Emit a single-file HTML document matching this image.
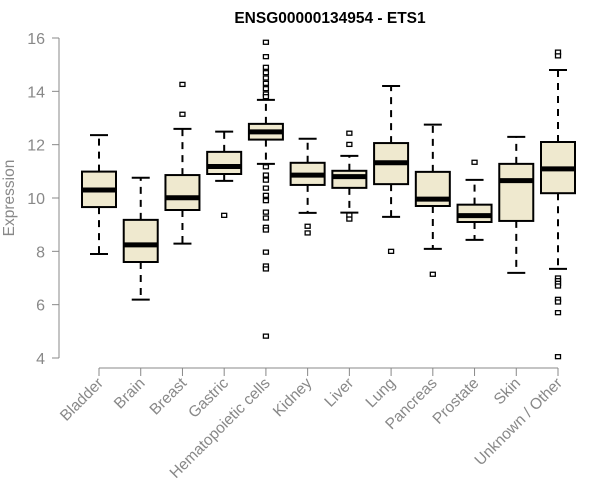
<!DOCTYPE html>
<html><head><meta charset="utf-8"><style>
body{margin:0;background:#fff}
svg{display:block;font-family:"Liberation Sans",sans-serif}
</style></head><body>
<svg id="chart" width="600" height="500">
<text x="330" y="23" text-anchor="middle" font-weight="bold" font-size="15.5">ENSG00000134954 - ETS1</text>
<text transform="translate(14,198) rotate(-90)" text-anchor="middle" font-size="15.5" fill="#888">Expression</text>
<g id="axes"></g><g id="boxes"></g>
</svg>
<script>
const categories=["Bladder","Brain","Breast","Gastric","Hematopoietic cells","Kidney","Liver","Lung","Pancreas","Prostate","Skin","Unknown / Other"];
const whiskerLow=[7.9,6.19,8.29,10.64,11.28,9.44,9.45,9.29,8.09,8.43,7.19,7.34];
const q1=[9.66,7.6,9.55,10.9,12.19,10.49,10.38,10.52,9.7,9.1,9.14,10.18];
const medians=[10.3,8.24,10.01,11.18,12.48,10.86,10.8,11.32,9.96,9.34,10.65,11.09];
const q3=[10.99,9.18,10.86,11.73,12.78,11.32,11.02,12.06,10.98,9.75,11.28,12.1];
const whiskerHigh=[12.36,10.76,12.59,12.49,13.68,12.22,11.58,14.2,12.75,10.68,12.29,14.8];
const outliers=[[],[],[14.26,13.14],[9.35],
[15.84,15.3,14.9,14.7,14.5,14.3,14.1,13.9,13.8,11.17,10.86,10.67,10.37,10.1,9.9,9.47,9.25,8.9,8.8,7.97,7.45,7.34,4.82],
[8.94,8.69],[12.43,12.01,9.36,9.21],[8.0],[7.14],[11.34],[],
[15.47,15.33,7.0,6.9,6.8,6.7,6.2,6.1,5.7,4.05]];
const yTicks=[4,6,8,10,12,14,16];
const NS="http://www.w3.org/2000/svg";
const y=v=>358-(v-4)*(320/12);
const x=i=>99+i*(459/11);
function mk(tag,attrs,parent){const e=document.createElementNS(NS,tag);for(const k in attrs)e.setAttribute(k,attrs[k]);parent.appendChild(e);return e;}
const ax=document.getElementById('axes'),bx=document.getElementById('boxes');
let l=mk('line',{x1:59,x2:59,y1:y(16),y2:y(4),stroke:'#888'},ax);

yTicks.forEach(t=>{
 let tk=mk('line',{x1:52,x2:59,y1:y(t),y2:y(t),stroke:'#888'},ax);
 
 let tx=mk('text',{x:45,y:y(t)+6,'text-anchor':'end','font-size':16,fill:'#888'},ax);tx.textContent=t;
 
});
l=mk('line',{x1:x(0),x2:x(11),y1:368,y2:368,stroke:'#888'},ax);

categories.forEach((c,i)=>{
 let tk=mk('line',{x1:x(i),x2:x(i),y1:368,y2:376,stroke:'#888'},ax);
 
 let tx=mk('text',{transform:`translate(${x(i)+5},${384}) rotate(-45)`,'text-anchor':'end','font-size':15.5,fill:'#888'},ax);tx.textContent=c;
 
 const g=mk('g',{},bx);
 
 
 const cx=x(i),hw=17;
 mk('line',{x1:cx,x2:cx,y1:y(q3[i]),y2:y(whiskerHigh[i]),stroke:'#000','stroke-width':2,'stroke-dasharray':'7,6'},g);
 mk('line',{x1:cx,x2:cx,y1:y(q1[i]),y2:y(whiskerLow[i]),stroke:'#000','stroke-width':2,'stroke-dasharray':'7,6'},g);
 mk('line',{x1:cx-9,x2:cx+9,y1:y(whiskerHigh[i]),y2:y(whiskerHigh[i]),stroke:'#000','stroke-width':2},g);
 mk('line',{x1:cx-9,x2:cx+9,y1:y(whiskerLow[i]),y2:y(whiskerLow[i]),stroke:'#000','stroke-width':2},g);
 mk('rect',{x:cx-hw,y:y(q3[i]),width:2*hw,height:y(q1[i])-y(q3[i]),fill:'#efe9cf',stroke:'#000','stroke-width':2},g);
 mk('line',{x1:cx-hw,x2:cx+hw,y1:y(medians[i]),y2:y(medians[i]),stroke:'#000','stroke-width':5},g);
 outliers[i].forEach(o=>mk('rect',{x:cx-2.5,y:y(o)-2,width:5,height:4,fill:'#fff',stroke:'#000','stroke-width':1.3},g));
});
</script>
</body></html>
